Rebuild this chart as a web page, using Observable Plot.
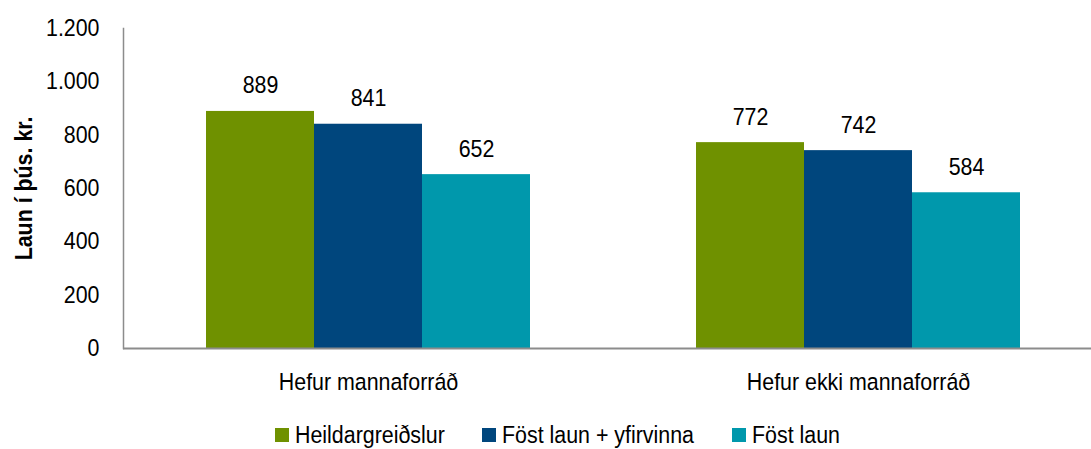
<!DOCTYPE html>
<html><head><meta charset="utf-8">
<script src="https://cdn.jsdelivr.net/npm/d3@7"></script>
<script src="https://cdn.jsdelivr.net/npm/@observablehq/plot@0.6"></script>
<style>
body{margin:0;background:#fff;font-family:"Liberation Sans",Arial,sans-serif;}
#wrap{position:relative;width:1091px;height:449px;}
#legend{position:absolute;left:0;top:421px;width:1091px;height:28px;font-size:23.5px;line-height:28px;color:#000;}
#legend .sw{position:absolute;top:7px;width:14px;height:14px;}
#legend .tx{position:absolute;top:0;white-space:nowrap;transform:scaleX(0.91);transform-origin:0 50%;}
</style></head><body>
<div id="wrap"><div id="chart"></div><div id="legend"></div></div>
<script>
const groups = ["Hefur mannaforráð", "Hefur ekki mannaforráð"];
const series = ["Heildargreiðslur", "Föst laun + yfirvinna", "Föst laun"];
const colors = ["#6f9100", "#00467d", "#0098ac"];
const valuesMannaforrad = [889, 841, 652];
const valuesEkki = [772, 742, 584];
const yTicks = [0, 200, 400, 600, 800, 1000, 1200];
const yLabel = "Laun í þús. kr.";

const data = [];
series.forEach((s, i) => {
  data.push({group: groups[0], series: s, value: valuesMannaforrad[i]});
  data.push({group: groups[1], series: s, value: valuesEkki[i]});
});
const fmt = d => d3.format(",")(d).replace(/,/g, ".");
const FONT = '"Liberation Sans", Arial, sans-serif';
const FS = 23.5;

const chart = Plot.plot({
  width: 1091,
  height: 410,
  marginLeft: 123,
  marginRight: 0,
  marginTop: 28,
  marginBottom: 62,
  style: {fontFamily: FONT, fontSize: FS + "px", color: "#000", background: "#fff"},
  fx: {domain: groups, range: [123, 1103], paddingInner: 0, paddingOuter: 0, label: null},
  x: {domain: series, paddingInner: 0, paddingOuter: 0.752, axis: null},
  y: {domain: [0, 1200], ticks: yTicks},
  color: {domain: series, range: colors},
  marks: [
    Plot.barY(data, {fx: "group", x: "series", y: "value", fill: "series"}),
    Plot.text(data, {fx: "group", x: "series", y: "value", text: d => fmt(d.value), lineAnchor: "bottom", dy: -18, fontSize: FS, fill: "#000"}),
    Plot.ruleY([0], {stroke: "#8c8c8c", strokeWidth: 2}),
    Plot.frame({anchor: "left", facetAnchor: "left", stroke: "#8c8c8c", strokeWidth: 1.5}),
    Plot.axisY({ticks: yTicks, tickSize: 0, tickPadding: 24, tickFormat: fmt, fontSize: FS,
      label: yLabel, labelAnchor: "center", labelOffset: 108, labelArrow: "none"}),
    Plot.axisFx({anchor: "bottom", tickSize: 0, tickPadding: 25, fontSize: FS, label: null})
  ]
});
document.getElementById("chart").appendChild(chart);
chart.querySelectorAll("g[aria-label='y-axis label'] text, g[aria-label='y-axis label']").forEach(el => { el.style.fontWeight = "bold"; });

// condense all text horizontally (narrow typeface look), about each text's own anchor
const K = 0.91;
chart.querySelectorAll("text").forEach(t => {
  const b = t.getBBox();
  const anchor = getComputedStyle(t).textAnchor;
  const px = anchor === "end" ? b.x + b.width : anchor === "middle" ? b.x + b.width / 2 : b.x;
  const tr = t.getAttribute("transform") || "";
  t.setAttribute("transform", `${tr} translate(${px},0) scale(${K},1) translate(${-px},0)`);
});

const leg = document.getElementById("legend");
const swLeft = [275, 482, 732];
series.forEach((s, i) => {
  const sw = document.createElement("div"); sw.className = "sw"; sw.style.background = colors[i]; sw.style.left = swLeft[i] + "px";
  const t = document.createElement("span"); t.className = "tx"; t.textContent = s; t.style.left = (swLeft[i] + 20) + "px";
  leg.appendChild(sw); leg.appendChild(t);
});
</script>
</body></html>
